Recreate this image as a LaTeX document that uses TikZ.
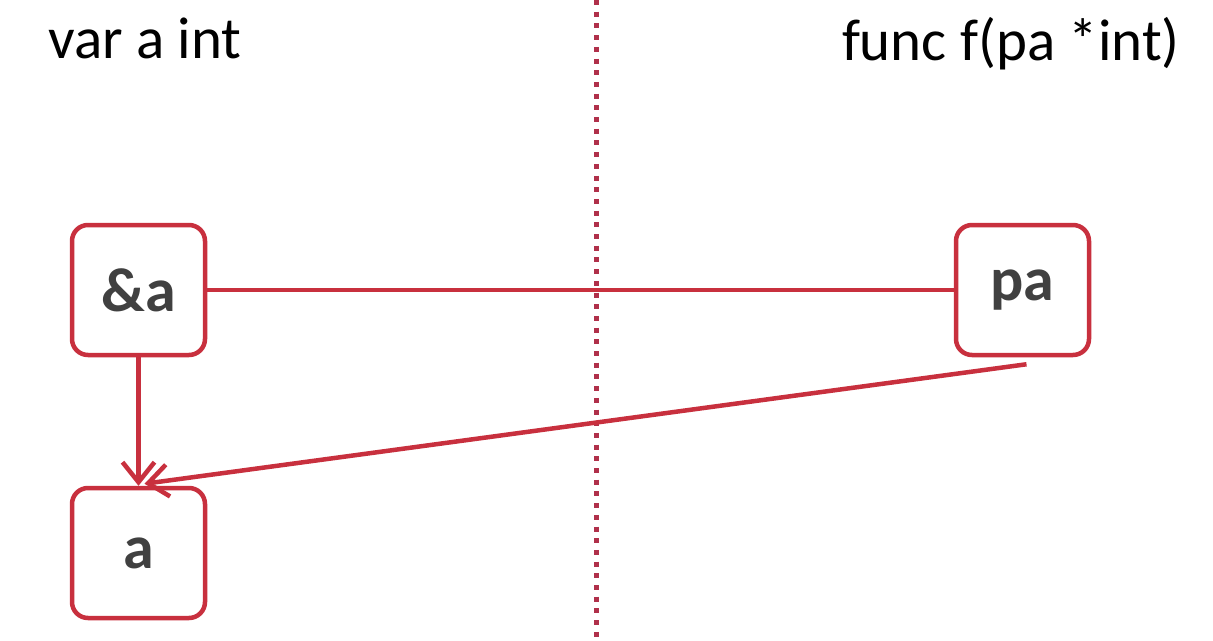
\documentclass[tikz,border=0pt]{standalone}
\usepackage{fontspec}
\setmainfont{Carlito}
\usetikzlibrary{arrows.meta}
\definecolor{boxred}{HTML}{C8303E}
\definecolor{dotred}{HTML}{B0304A}
\definecolor{txtgray}{HTML}{404040}
\tikzset{
  membox/.style={draw=boxred, line width=4.5pt, fill=white, rounded corners=16pt,
    minimum width=133pt, minimum height=130pt, inner sep=0pt,
    font=\fontsize{62}{62}\selectfont\bfseries, text=txtgray},
  conn/.style={draw=boxred, line width=4.5pt},
  arr/.style={conn, -{Straight Barb[length=20pt,width=32pt,line width=4.5pt]}},
  title/.style={font=\fontsize{59}{59}\selectfont, text=black, inner sep=0pt, anchor=base west}
}
\begin{document}
\begin{tikzpicture}[x=1pt,y=-1pt]
\useasboundingbox (0,0) rectangle (1213,640);
\draw[dotred, line width=5pt, dash pattern=on 5pt off 6.7pt] (596,0) -- (596,640);
\node[title] (t1) at (48,58) {var a int};
\node[title, anchor=base east] (t2) at (1180,60) {func f(pa *int)};
\node[membox] (pa0) at (138.5,290) {\&a};
\node[membox] (pa) at (1022.5,290) {pa};
\node[membox] (a) at (138.5,553) {a};
\draw[conn] (pa0.east) -- (pa.west);
\draw[arr] (pa0.south) -- (a.north);
\draw[arr] ([xshift=4pt,yshift=-7pt]pa.south) -- ([xshift=6pt,yshift=2pt]a.north);
\end{tikzpicture}
\end{document}
